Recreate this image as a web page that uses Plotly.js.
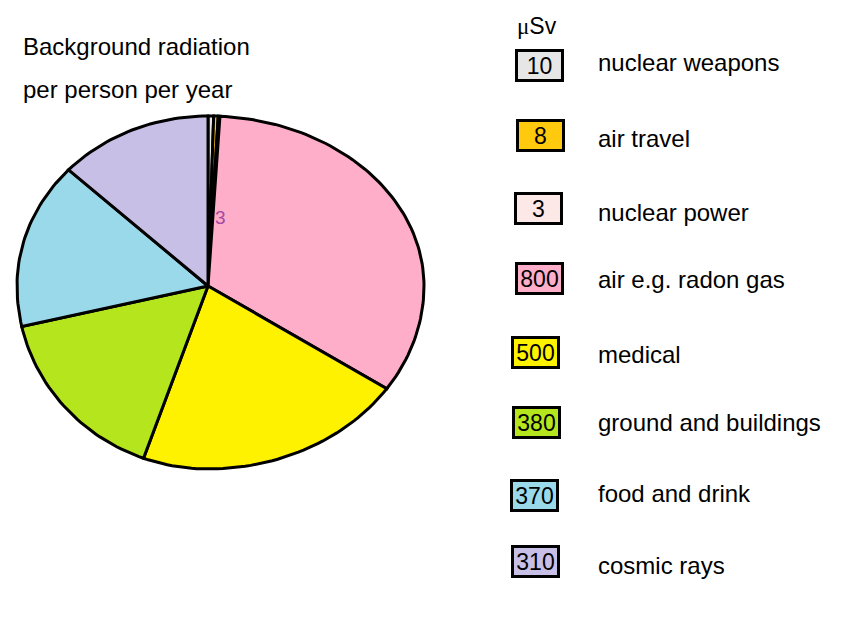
<!DOCTYPE html>
<html>
<head>
<meta charset="utf-8">
<script src="https://cdn.plot.ly/plotly-3.0.1.min.js"></script>
<style>
  html, body { margin: 0; padding: 0; background: #fff; }
  #chart { width: 843px; height: 622px; }
</style>
</head>
<body>
<div id="chart"></div>
<script>
// background radiation per person per year, in microsieverts
const sources = ["nuclear weapons", "air travel", "nuclear power", "air e.g. radon gas",
  "medical", "ground and buildings", "food and drink", "cosmic rays"];
const doses = [10, 8, 3, 800, 500, 380, 370, 310];
const titleLines = ["Background radiation", "per person per year"];

const colours = ["#e6e6e6", "#ffc90e", "#fde8e8", "#ffaec9", "#fff200", "#b5e61d", "#99d9ea", "#c8bfe7"];
const FONT = "Liberation Sans, Arial, sans-serif";

// legend rows are hand placed, not quite even
const boxX = [539, 540, 538, 539, 535, 536, 534, 535];
const boxY = [65, 135, 208, 278, 352, 422, 495, 561];
const labelY = [62, 138, 212, 279, 354, 422, 493, 565];

// the pie is a squashed ellipse, a bit lopsided round its tip
const tip = { x: 208, y: 286 };
const rad = { right: 216, left: 191, top: 170, bottom: 183 };

function rim(deg) {
  const a = deg * Math.PI / 180;
  const u = Math.sin(a), v = -Math.cos(a);
  return {
    x: tip.x + u * (u >= 0 ? rad.right : rad.left),
    y: tip.y + v * (v >= 0 ? rad.bottom : rad.top),
  };
}

function sliceTrace(start, end, colour, name) {
  const xs = [tip.x], ys = [tip.y];
  const n = Math.max(2, Math.ceil((end - start) / 1.5));
  for (let i = 0; i <= n; i++) {
    const p = rim(start + (end - start) * i / n);
    xs.push(p.x);
    ys.push(p.y);
  }
  xs.push(tip.x);
  ys.push(tip.y);
  return {
    type: "scatter", mode: "lines", x: xs, y: ys, name,
    fill: "toself", fillcolor: colour,
    line: { color: "#000", width: 3 },
    hoverinfo: "name", showlegend: false,
  };
}

const total = doses.reduce((a, b) => a + b, 0);
const traces = [];
let angle = 0;
doses.forEach((d, i) => {
  const sweep = d / total * 360;
  traces.push(sliceTrace(angle, angle + sweep, colours[i], sources[i]));
  angle += sweep;
});

const annotations = [];
titleLines.forEach((line, i) => {
  annotations.push({
    x: 21, y: 46 + i * 43, xref: "x", yref: "y", xanchor: "left", yanchor: "middle",
    text: line, showarrow: false, font: { family: FONT, size: 24, color: "#000" },
  });
});
annotations.push({
  x: 515, y: 26, xref: "x", yref: "y", xanchor: "left", yanchor: "middle",
  text: "<span style='font-family:Liberation Serif, serif'>μ</span>Sv",
  showarrow: false, font: { family: FONT, size: 23, color: "#000" },
});

sources.forEach((s, i) => {
  annotations.push({
    x: boxX[i], y: boxY[i], xref: "x", yref: "y", xanchor: "center", yanchor: "middle",
    text: String(doses[i]), showarrow: false,
    width: 43, height: 27, bgcolor: colours[i], bordercolor: "#000", borderwidth: 3, borderpad: 0,
    font: { family: FONT, size: 23, color: "#000" },
  });
  annotations.push({
    x: 596, y: labelY[i], xref: "x", yref: "y", xanchor: "left", yanchor: "middle",
    text: s, showarrow: false, font: { family: FONT, size: 24, color: "#000" },
  });
});

// stray purple mark drawn beside the thin slices
annotations.push({
  x: 220, y: 217, xref: "x", yref: "y", xanchor: "center", yanchor: "middle",
  text: "3", showarrow: false, font: { family: FONT, size: 19, color: "#a349a4" },
});

const layout = {
  width: 843, height: 622,
  margin: { l: 0, r: 0, t: 0, b: 0 },
  paper_bgcolor: "#fff", plot_bgcolor: "#fff",
  xaxis: { range: [0, 843], visible: false, fixedrange: true },
  yaxis: { range: [622, 0], visible: false, fixedrange: true },
  annotations,
  showlegend: false,
};

Plotly.newPlot("chart", traces, layout, { displayModeBar: false, staticPlot: true });
</script>
</body>
</html>
